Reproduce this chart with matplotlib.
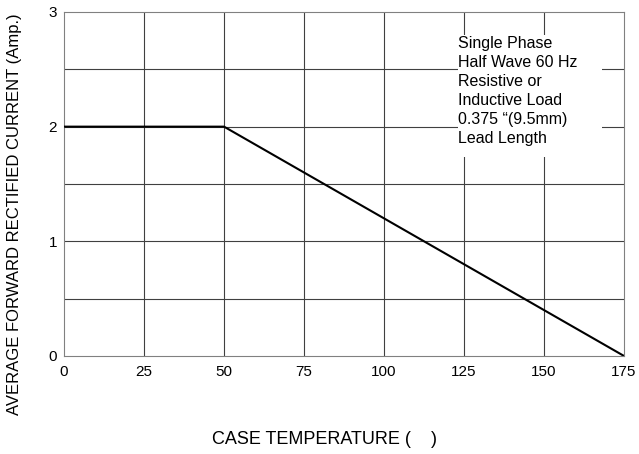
import matplotlib
matplotlib.use("Agg")
import matplotlib.pyplot as plt
from matplotlib.patches import Rectangle

plt.rcParams['font.family'] = ['Liberation Sans', 'DejaVu Sans']

# derating curve
temp = [0, 50, 175]
current = [2, 2, 0]

xticks = [0, 25, 50, 75, 100, 125, 150, 175]
yticks = [0, 1, 2, 3]
ygrid = [0.5, 1, 1.5, 2, 2.5]

note = 'Single Phase\nHalf Wave 60 Hz\nResistive or\nInductive Load\n0.375 \u201c(9.5mm)\nLead Length'

fig = plt.figure(figsize=(6.39, 4.54), dpi=100)
ax = fig.add_axes([0.1002, 0.2159, 0.8764, 0.7577])

for v in ygrid:
    ax.axhline(v, color='#404040', lw=0.8, zorder=1)
for v in xticks[1:-1]:
    ax.axvline(v, color='#404040', lw=0.8, zorder=1)

ax.plot(temp, current, color='black', lw=1.5, zorder=3)

ax.set_xlim(0, 175)
ax.set_ylim(0, 3)
ax.set_xticks(xticks)
ax.set_yticks(yticks)
ax.tick_params(length=0, labelsize=11)
ax.tick_params(axis='y', pad=5)
ax.tick_params(axis='x', pad=6.5)
for s in ax.spines.values():
    s.set_color('#808080')
    s.set_linewidth(0.8)

# white note box covering the grid
ax.add_patch(Rectangle((123.1, 1.735), 45.0, 1.065, facecolor='white',
                       edgecolor='none', zorder=2))
ax.text(123.1, 2.79, note, fontsize=11.5, va='top', ha='left',
        linespacing=1.33, zorder=4)

fig.text(0.022, 0.529, 'AVERAGE FORWARD RECTIFIED CURRENT (Amp.)', rotation=90,
         ha='center', va='center', fontsize=12)
fig.text(0.508, 0.033, 'CASE TEMPERATURE (    )', ha='center', va='center', fontsize=13)

fig.savefig('out.png', dpi=100)
